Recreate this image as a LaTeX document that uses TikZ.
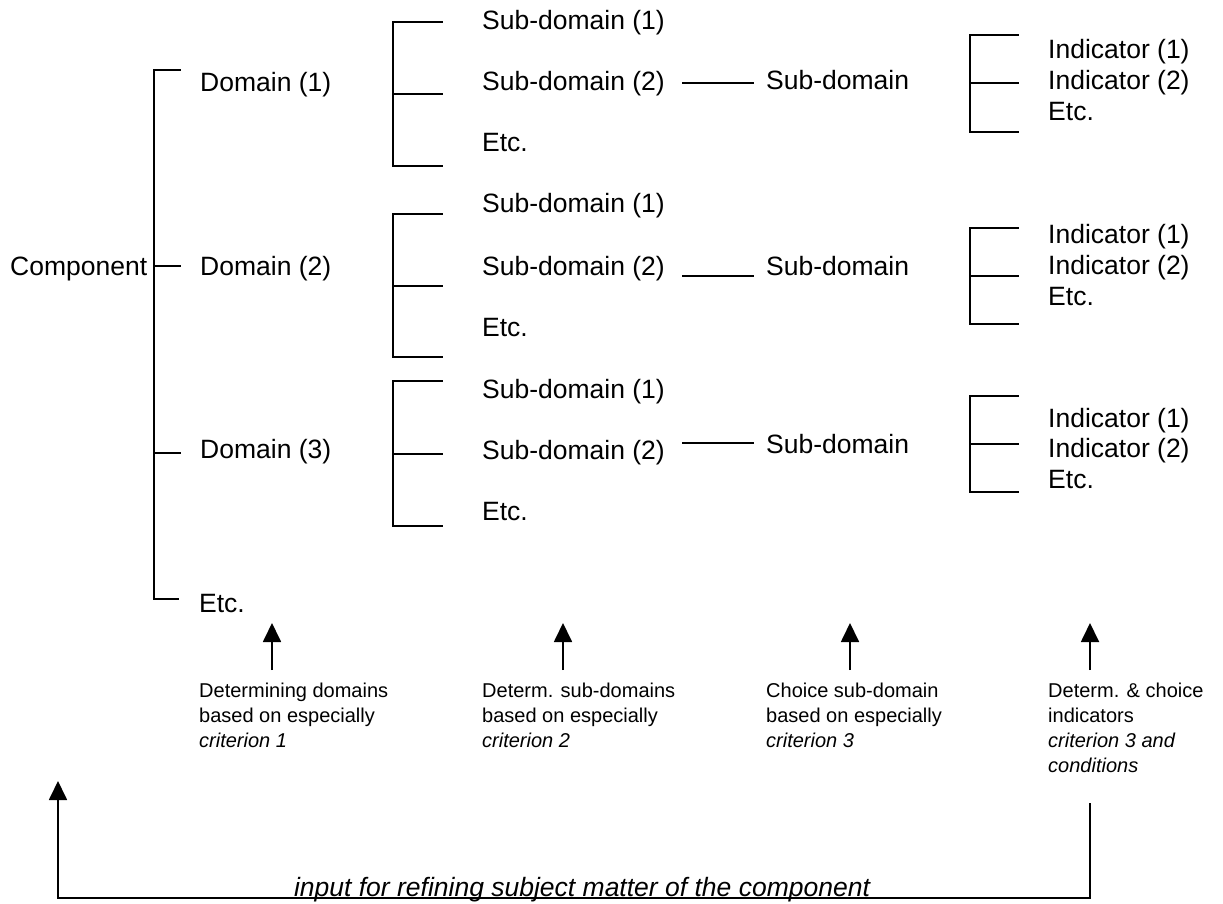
\documentclass[tikz,border=0pt]{standalone}
\usepackage{fontspec}
\setmainfont{Liberation Sans}
\usetikzlibrary{arrows.meta}
\begin{document}
\begin{tikzpicture}[x=1pt,y=-1pt,
  txt/.style={anchor=base west,inner sep=0pt,font=\fontsize{26.5}{30}\selectfont},
  captxt/.style={anchor=north west,inner sep=0pt,align=left,font=\fontsize{20}{25}\selectfont},
  ln/.style={line width=1.8pt,line cap=rect},
  up/.style={line width=1.8pt,-{Triangle[length=19pt,width=18pt]}}]
\useasboundingbox (0,0) rectangle (1223,904);
% ---------- level texts ----------
\node[txt] (comp) at (10,275) {Component};
\node[txt] (d1) at (200,92) {Domain (1)};
\node[txt] (d2) at (200,275) {Domain (2)};
\node[txt] (d3) at (200,458) {Domain (3)};
\node[txt] (detc) at (199,612) {Etc.};
% sub-domains
\node[txt] (s11) at (482,30) {Sub-domain (1)};
\node[txt] (s12) at (482,91) {Sub-domain (2)};
\node[txt] (s1e) at (482,152) {Etc.};
\node[txt] (s21) at (482,213) {Sub-domain (1)};
\node[txt] (s22) at (482,275) {Sub-domain (2)};
\node[txt] (s2e) at (482,336) {Etc.};
\node[txt] (s31) at (482,398) {Sub-domain (1)};
\node[txt] (s32) at (482,459) {Sub-domain (2)};
\node[txt] (s3e) at (482,520) {Etc.};
% chosen sub-domains
\node[txt] (m1) at (766,90) {Sub-domain};
\node[txt] (m2) at (766,275) {Sub-domain};
\node[txt] (m3) at (766,453) {Sub-domain};
% indicators
\node[txt] (i11) at (1048,59) {Indicator (1)};
\node[txt] (i12) at (1048,90) {Indicator (2)};
\node[txt] (i1e) at (1048,121) {Etc.};
\node[txt] (i21) at (1048,243) {Indicator (1)};
\node[txt] (i22) at (1048,274) {Indicator (2)};
\node[txt] (i2e) at (1048,305) {Etc.};
\node[txt] (i31) at (1048,427) {Indicator (1)};
\node[txt] (i32) at (1048,457) {Indicator (2)};
\node[txt] (i3e) at (1048,488) {Etc.};
% ---------- brackets ----------
\draw[ln] (180,70) -- (154,70) -- (154,599) -- (178,599);
\draw[ln] (154,266) -- (180,266);
\draw[ln] (154,453) -- (180,453);
\foreach \t/\m/\b in {22/94/166,214/286/357,381/454/526}{
  \draw[ln] (442,\t) -- (393,\t) -- (393,\b) -- (442,\b);
  \draw[ln] (393,\m) -- (442,\m);
}
\foreach \t/\m/\b in {35/83/132,228/276/324,396/444/492}{
  \draw[ln] (1018,\t) -- (970,\t) -- (970,\b) -- (1018,\b);
  \draw[ln] (970,\m) -- (1018,\m);
}
% ---------- connectors sub-domain (2) -> sub-domain ----------
\coordinate (a1) at (682,83);  \coordinate (b1) at (754,83);
\coordinate (a2) at (682,276); \coordinate (b2) at (754,276);
\coordinate (a3) at (682,443); \coordinate (b3) at (754,443);
\draw[ln,line cap=butt] (a1) -- (b1);
\draw[ln,line cap=butt] (a2) -- (b2);
\draw[ln,line cap=butt] (a3) -- (b3);
% ---------- captions ----------
\node[captxt] (c1) at (199,683) {Determining domains\\based on especially\\\textit{criterion 1}};
\node[captxt] (c2) at (482,683) {Determ. sub-domains\\based on especially\\\textit{criterion 2}};
\node[captxt] (c3) at (766,683) {Choice sub-domain\\based on especially\\\textit{criterion 3}};
\node[captxt] (c4) at (1048,683) {Determ. \& choice\\indicators\\\textit{criterion 3 and}\\\textit{conditions}};
% ---------- upward arrows ----------
\coordinate (u1) at (272,670); \coordinate (t1) at (272,623);
\coordinate (u2) at (563,670); \coordinate (t2) at (563,623);
\coordinate (u3) at (850,670); \coordinate (t3) at (850,623);
\coordinate (u4) at (1090,670); \coordinate (t4) at (1090,623);
\draw[up] (u1) -- (t1);
\draw[up] (u2) -- (t2);
\draw[up] (u3) -- (t3);
\draw[up] (u4) -- (t4);
% ---------- feedback loop ----------
\coordinate (fb0) at (1090,803);
\coordinate (fb1) at (1090,898);
\coordinate (fb2) at (58,898);
\coordinate (fb3) at (58,781);
\draw[up] (fb0) -- (fb1) -- (fb2) -- (fb3);
\node[anchor=base,inner sep=0pt,font=\fontsize{26.5}{30}\selectfont\itshape] (inp) at (582,896) {input for refining subject matter of the component};
\end{tikzpicture}
\end{document}
